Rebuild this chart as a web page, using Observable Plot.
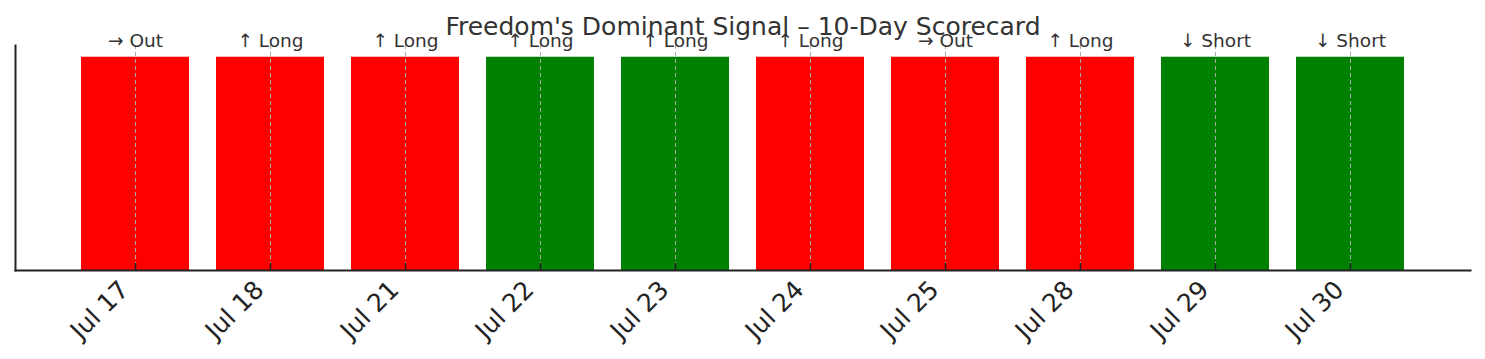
<!DOCTYPE html>
<html>
<head>
<meta charset="utf-8">
<script src="https://cdn.jsdelivr.net/npm/d3@7"></script>
<script src="https://cdn.jsdelivr.net/npm/@observablehq/plot@0.6"></script>
<style>
  html, body { margin: 0; padding: 0; background: #fff; }
  #chart svg { display: block; font-family: "DejaVu Sans", sans-serif; }
</style>
</head>
<body>
<div id="chart"></div>
<script>
const title = "Freedom's Dominant Signal – 10-Day Scorecard";
const dates = ["Jul 17", "Jul 18", "Jul 21", "Jul 22", "Jul 23", "Jul 24", "Jul 25", "Jul 28", "Jul 29", "Jul 30"];
const signals = ["→ Out", "↑ Long", "↑ Long", "↑ Long", "↑ Long", "↑ Long", "→ Out", "↑ Long", "↓ Short", "↓ Short"];
const outcomes = ["miss", "miss", "miss", "hit", "hit", "miss", "miss", "miss", "hit", "hit"];
const values = [1, 1, 1, 1, 1, 1, 1, 1, 1, 1];

const data = dates.map((d, i) => ({date: d, signal: signals[i], outcome: outcomes[i], value: values[i]}));

const chart = Plot.plot({
  width: 1485,
  height: 359,
  marginTop: 45,
  marginBottom: 89,
  marginLeft: 15,
  marginRight: 15,
  style: {fontFamily: "DejaVu Sans, sans-serif", background: "#fff"},
  x: {domain: dates, paddingInner: 0.2, paddingOuter: 0.489, round: false, label: null},
  y: {domain: [0, 1.055], axis: null},
  color: {domain: ["miss", "hit"], range: ["#ff0000", "#008000"]},
  marks: [
    Plot.barY(data, {x: "date", y: "value", fill: "outcome"}),
    Plot.ruleX(data, {x: "date", stroke: "#aaa", strokeWidth: 1, strokeDasharray: "4,3"}),
    Plot.ruleX(data, {x: "date", y1: 0, insetTop: -7, stroke: "#222", strokeWidth: 1.5}),
    Plot.frame({anchor: "left", stroke: "#222", strokeWidth: 2}),
    Plot.frame({anchor: "bottom", stroke: "#222", strokeWidth: 2}),
    Plot.axisX({tickSize: 0, tickPadding: 12, tickRotate: -45, fontSize: 25, dx: -11, dy: 3, fill: "#222", label: null}),
    Plot.text(data, {x: "date", text: "signal", frameAnchor: "top", lineAnchor: "middle", dy: -4, fontSize: 18.5, fill: "#333"}),
    Plot.text([title], {text: d => d, frameAnchor: "top", lineAnchor: "middle", dy: -19, fontSize: 25, fill: "#333"})
  ]
});
document.getElementById("chart").appendChild(chart);
</script>
</body>
</html>
